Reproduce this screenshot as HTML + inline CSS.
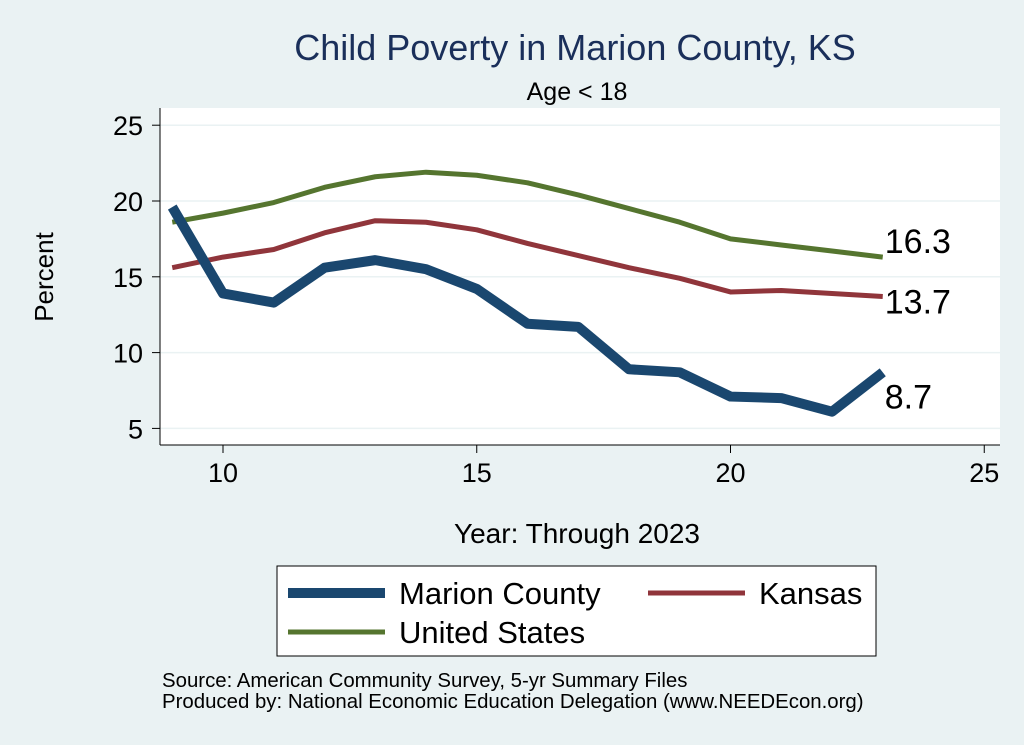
<!DOCTYPE html>
<html><head><meta charset="utf-8"><style>
body{margin:0;background:#eaf2f3;}
svg{display:block;font-family:"Liberation Sans",Arial,sans-serif;}
</style></head><body>
<svg id="chart" width="1024" height="745" viewBox="0 0 1024 745">
<rect x="0" y="0" width="1024" height="745" fill="#eaf2f3"/>
<rect x="160" y="108" width="840" height="337" fill="#ffffff"/>
<text x="575" y="60" text-anchor="middle" font-size="36" fill="#1a2f5a">Child Poverty in Marion County, KS</text>
<text x="577" y="100" text-anchor="middle" font-size="25" fill="#000">Age &lt; 18</text>
<g id="grid"></g><g id="axes"></g><g id="series"></g>
<text x="577" y="543" text-anchor="middle" font-size="28">Year: Through 2023</text>
<text transform="translate(53,277) rotate(-90)" text-anchor="middle" font-size="26">Percent</text>
<g>
<rect x="277" y="566" width="599" height="90" fill="#fff" stroke="#000" stroke-width="1"/>
<line x1="288" y1="593" x2="385" y2="593" stroke="#1a476f" stroke-width="10"/>
<text x="399" y="604" font-size="31">Marion County</text>
<line x1="648" y1="593" x2="745" y2="593" stroke="#90353b" stroke-width="5"/>
<text x="759" y="604" font-size="31">Kansas</text>
<line x1="288" y1="632" x2="385" y2="632" stroke="#55752f" stroke-width="5"/>
<text x="399" y="643" font-size="31">United States</text>
</g>
<text x="162" y="687" font-size="20.4">Source: American Community Survey, 5-yr Summary Files</text>
<text x="162" y="708" font-size="20.4">Produced by: National Economic Education Delegation (www.NEEDEcon.org)</text>
</svg>
<script>
const years=[9,10,11,12,13,14,15,16,17,18,19,20,21,22,23];
const marion=[19.6,13.9,13.3,15.6,16.1,15.5,14.2,11.9,11.7,8.9,8.7,7.1,7.0,6.1,8.7];
const kansas=[15.6,16.3,16.8,17.9,18.7,18.6,18.1,17.2,16.4,15.6,14.9,14.0,14.1,13.9,13.7];
const us=[18.6,19.2,19.9,20.9,21.6,21.9,21.7,21.2,20.4,19.5,18.6,17.5,17.1,16.7,16.3];
const xTicks=[10,15,20,25];
const yTicks=[5,10,15,20,25];
const NS="http://www.w3.org/2000/svg";
const X=v=>223+(v-10)*50.75;
const Y=v=>201-(v-20)*15.16;
function mk(t,a,p){const e=document.createElementNS(NS,t);for(const k in a)e.setAttribute(k,a[k]);p.appendChild(e);return e;}
const grid=document.getElementById('grid'),axes=document.getElementById('axes'),ser=document.getElementById('series');
yTicks.forEach(v=>{
 const g=mk('line',{x1:160,x2:1000,y1:Y(v),y2:Y(v),stroke:'#eaf2f3','stroke-width':1.5},grid);
 
 
 const t=mk('line',{x1:152,x2:160,y1:Y(v),y2:Y(v),stroke:'#000'},axes);
 
 
 const l=mk('text',{x:143,y:Y(v)+10,'text-anchor':'end','font-size':27},axes);l.textContent=v;
 
 
});
xTicks.forEach(v=>{
 const t=mk('line',{x1:X(v),x2:X(v),y1:445,y2:453,stroke:'#000'},axes);
 
 
 const l=mk('text',{x:X(v),y:482,'text-anchor':'middle','font-size':27},axes);l.textContent=v;
 
 
});
const ya=mk('line',{x1:160,x2:160,y1:108,y2:445,stroke:'#000'},axes);


const xa=mk('line',{x1:160,x2:1000,y1:445,y2:445,stroke:'#000'},axes);


function line(vals,col,w,name,dy){
 const p=mk('polyline',{points:years.map((y,i)=>X(y)+','+Y(vals[i])).join(' '),fill:'none',stroke:col,'stroke-width':w,'stroke-linejoin':'round'},ser);
 
 
 const last=vals[vals.length-1];
 const t=mk('text',{x:X(years[years.length-1])+2,y:Y(last)+dy,'font-size':34},ser);t.textContent=last.toFixed(1);
 
 
}
line(us,'#55752f',5,'us-line',-4);
line(kansas,'#90353b',5,'kansas-line',17);
line(marion,'#1a476f',10,'marion-line',36);
</script>
</body></html>
